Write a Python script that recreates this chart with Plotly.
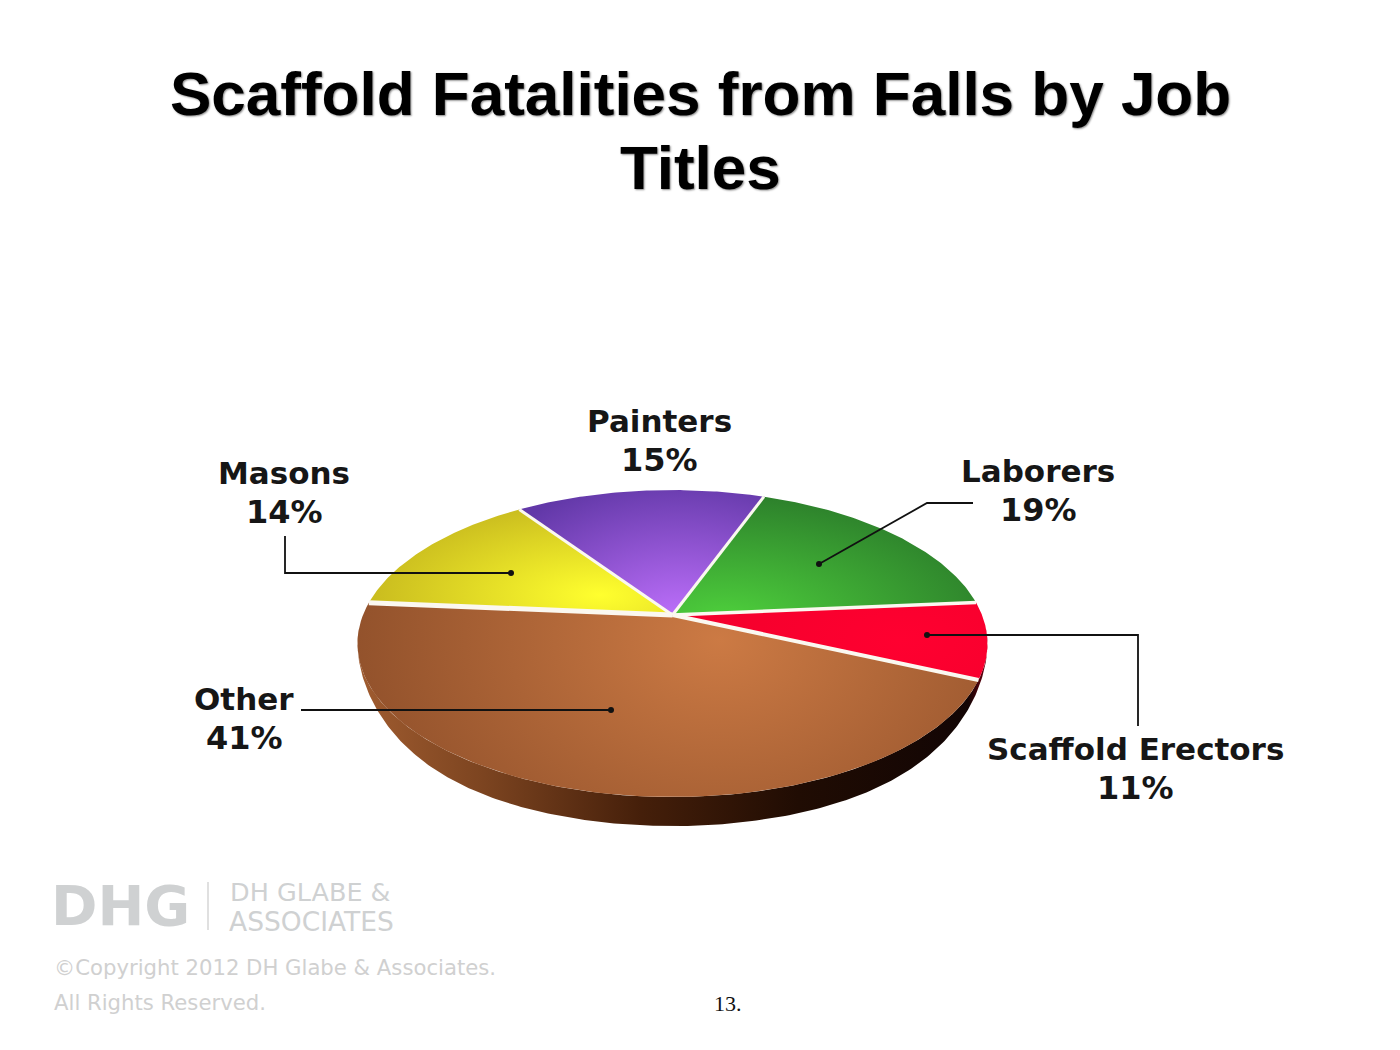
import numpy as np
import plotly.graph_objects as go

# Slices clockwise from the Laborers / Painters boundary
categories = ["Laborers", "Scaffold Erectors", "Other", "Masons", "Painters"]
label_percent = [19, 11, 41, 14, 15]          # printed on the chart
drawn_share = [18.0, 8.0, 44.7, 14.0, 15.3]   # sweep as actually drawn in the picture
start_deg = 20.3

title_lines = ["Scaffold Fatalities from Falls by Job", "Titles"]

inner_colors = ["#4ed03c", "#ff0030", "#cc7a44", "#ffff2e", "#c272ff"]
outer_colors = ["#2a7a2a", "#ee002a", "#8a4c28", "#c0b01c", "#6238a8"]
focus = [(725, 620), (900, 640), (720, 640), (600, 595), (680, 625)]
reach = [(300, 135), (300, 150), (420, 320), (270, 110), (220, 150)]

CX, CY, A, B, K = 672.5, 615.0, 309.5, 148.2, 0.186
RIM = 29.0


def project(deg):
    t = np.radians(deg)
    u, v = np.sin(t), np.cos(t)
    w = 1 + K * v
    return CX + A * u / w, CY - B * v / w


fig = go.Figure()

# side wall, front half of the disc
ts = np.linspace(95, 265, 260)
ex, ey = project(ts)
ratio = np.clip(np.abs(ex - CX) / 315.0, 0, 1)
drop = RIM * (1 - ratio ** 6) ** 0.7
fig.add_trace(go.Scatter(
    x=np.r_[ex, ex[::-1]], y=np.r_[ey, (ey + drop)[::-1]],
    mode="lines", line=dict(width=0), fill="toself", hoverinfo="skip",
    fillgradient=dict(type="horizontal", start=358, stop=987, colorscale=[
        [0, "#a05c30"], [0.2, "#7c4420"], [0.45, "#451f0a"], [0.7, "#200c03"],
        [0.97, "#120504"], [1, "#700010"]]),
))

# top faces
edge = start_deg
bounds = []
for name, share, c0, c1, f, r in zip(categories, drawn_share, inner_colors,
                                     outer_colors, focus, reach):
    sweep = share * 3.6
    arc = np.linspace(edge, edge + sweep, 90)
    ax_, ay_ = project(arc)
    bounds.append(edge)
    edge += sweep
    # zero-area spur centres the bounding box, and so the radial gradient, on the focus
    xs = np.r_[CX, ax_, CX, f[0] - r[0], CX, f[0] + r[0], CX]
    ys = np.r_[CY, ay_, CY, f[1] - r[1], CY, f[1] + r[1], CY]
    fig.add_trace(go.Scatter(
        x=xs, y=ys, mode="lines", line=dict(width=0), fill="toself", name=name,
        fillgradient=dict(type="radial", colorscale=[[0, c0], [1, c1]]),
        hoverinfo="name",
    ))

# white separators
sep_width = [3, 3.5, 4, 5, 3]
for deg, wd in zip(bounds, sep_width):
    px, py = project(deg)
    fig.add_trace(go.Scatter(x=[CX, float(px)], y=[CY, float(py)], mode="lines",
                             line=dict(color="#fbf8f0", width=wd), hoverinfo="skip"))

# leader lines
leader_x = [[285, 285, 511], [973, 927, 819], [1138, 1138, 927], [301, 611]]
leader_y = [[536, 573, 573], [503, 503, 564], [726, 635, 635], [710, 710]]
for lx, ly in zip(leader_x, leader_y):
    fig.add_trace(go.Scatter(x=lx, y=ly, mode="lines", line=dict(color="#111", width=1.8),
                             hoverinfo="skip"))
    fig.add_trace(go.Scatter(x=[lx[-1]], y=[ly[-1]], mode="markers",
                             marker=dict(color="#111", size=6), hoverinfo="skip"))

ann = []


def text(x, y, s, size, family, color="#000", bold=False, anchor="center", **font_extra):
    ann.append(dict(x=x, y=y, xref="x", yref="y", text=f"<b>{s}</b>" if bold else s,
                    showarrow=False, xanchor=anchor, yanchor="middle",
                    font=dict(size=size, family=family, color=color, **font_extra)))


TITLE = "Liberation Sans"
shadow = "1px 1px 2px #888"
text(700, 93, title_lines[0], 62, TITLE, bold=True, shadow=shadow)
text(700, 167, title_lines[1], 62, TITLE, bold=True, shadow=shadow)

LAB = "DejaVu Sans"
label_pos = {"Painters": (659, 421), "Masons": (284, 473), "Laborers": (1038, 471),
             "Other": (244, 699), "Scaffold Erectors": (1135, 749)}
for name, pct in zip(categories, label_percent):
    lx, ly = label_pos[name]
    text(lx, ly, name, 31, LAB, color="#161616", bold=True)
    text(lx, ly + 39, f"{pct}%", 32, LAB, color="#161616", bold=True)

GREY = "#cfd1d2"
text(120, 905, "DHG", 56, LAB, color=GREY, bold=True)
fig.add_shape(type="line", x0=208, x1=208, y0=882, y1=930, line=dict(color="#d6d6d6", width=1.5))
text(228, 892, "DH GLABE &amp;", 25.5, LAB, color=GREY, anchor="left")
text(227, 921, "ASSOCIATES", 26.5, LAB, color=GREY, anchor="left")
text(52, 967, "©Copyright 2012 DH Glabe &amp; Associates.", 21.2, LAB, color="#d0d0d0", anchor="left")
text(52, 1002, "All Rights Reserved.", 21.2, LAB, color="#d0d0d0", anchor="left")
text(728, 1003, "13.", 22, "Liberation Serif", color="#111")

fig.update_layout(
    width=1400, height=1050, margin=dict(l=0, r=0, t=0, b=0),
    paper_bgcolor="white", plot_bgcolor="white", showlegend=False, annotations=ann,
    xaxis=dict(range=[0, 1400], visible=False, fixedrange=True),
    yaxis=dict(range=[1050, 0], visible=False, fixedrange=True),
)
fig.write_html("out.html", config=dict(displayModeBar=False),
               post_script="document.body.style.margin='0';")
